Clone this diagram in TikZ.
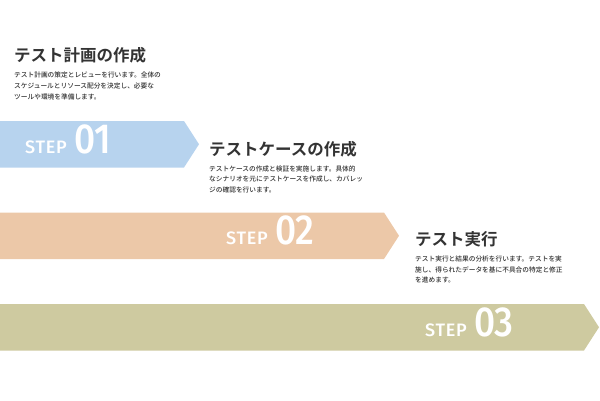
\documentclass[tikz,border=0pt]{standalone}
\usepackage{fontspec}
\usetikzlibrary{positioning}
\newfontfamily\jpfont{Noto Sans CJK JP}[BoldFont={Noto Sans CJK JP Bold}]
\newfontfamily\jpmedfont{Noto Sans CJK JP Medium}
\newfontfamily\stepfont{Fira Sans Medium}[LetterSpace=4]
\newfontfamily\numfont{Fira Sans Medium}[FakeStretch=0.88]
\definecolor{bandblue}{RGB}{183,211,238}
\definecolor{bandtan}{RGB}{236,200,168}
\definecolor{bandolive}{RGB}{206,202,160}
\definecolor{inkgray}{RGB}{51,51,51}
\tikzset{
  stepband/.style={fill=#1, draw=none},
  steplbl/.style={text=white, font=\stepfont\fontsize{18}{18}\selectfont,
                  inner sep=0pt, anchor=base west},
  stepnum/.style={text=white, font=\numfont\fontsize{42}{42}\selectfont,
                  inner sep=0pt, anchor=base west},
  steptitle/.style={text=inkgray, font=\jpfont\bfseries\fontsize{16.5}{18}\selectfont,
                    inner sep=0pt, anchor=west},
  stepdesc/.style={text=inkgray, font=\jpmedfont\fontsize{6.7}{10.8}\selectfont,
                   inner sep=0pt, align=left, anchor=north west},
}
\newcommand{\bandrow}[4]{\fill[stepband=#4] (0,#2) -- (#1,#2) -- (#1+15,{(#2+#3)/2}) -- (#1,#3) -- (0,#3) -- cycle;}
\newcommand{\RWA}{0}
\newcommand{\RWB}{91.5}
\newcommand{\RWC}{183}

\begin{document}
\begin{tikzpicture}[x=1pt, y=-1pt]
    \useasboundingbox (0,0) rectangle (600,400);

      \bandrow{184}{121+\RWA}{167.5+\RWA}{bandblue}
      \bandrow{384}{121+\RWB}{167.5+\RWB}{bandtan}
      \bandrow{584}{121+\RWC}{167.5+\RWC}{bandolive}

      \node[steplbl] (lbl1) at (25,153.3+\RWA) {STEP};
      \node[right=7pt of lbl1.base east, stepnum] (num1) {01};
      \node[steplbl] (lbl2) at (226,153.3+\RWB) {STEP};
      \node[right=7pt of lbl2.base east, stepnum] (num2) {02};
      \node[steplbl] (lbl3) at (425,153.3+\RWC) {STEP};
      \node[right=7pt of lbl3.base east, stepnum] (num3) {03};

      \node[steptitle] (title1) at (14,55.5) {テスト計画の作成};
      \node[below=8pt of title1.south west, stepdesc] (desc1)
        {テスト計画の策定とレビューを行います。全体の\\スケジュールとリソース配分を決定し、必要な\\ツールや環境を準備します。};

      \node[steptitle] (title2) at (209,149) {テストケースの作成};
      \node[below=8pt of title2.south west, stepdesc] (desc2)
        {テストケースの作成と検証を実施します。具体的\\なシナリオを元にテストケースを作成し、カバレッ\\ジの確認を行います。};

      \node[steptitle] (title3) at (415,239.5) {テスト実行};
      \node[below=8pt of title3.south west, stepdesc] (desc3)
        {テスト実行と結果の分析を行います。テストを実\\施し、得られたデータを基に不具合の特定と修正\\を進めます。};

    \end{tikzpicture}
\end{document}
